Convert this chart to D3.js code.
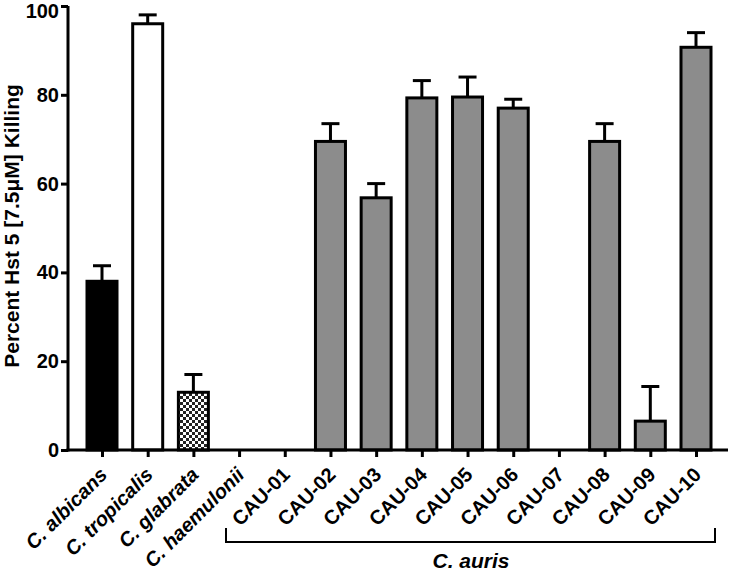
<!DOCTYPE html>
<html><head><meta charset="utf-8">
<script src="https://cdn.jsdelivr.net/npm/d3@7"></script>
<style>body{margin:0;background:#fff}svg{display:block}</style>
</head><body><svg id="c" width="733" height="573"></svg>
<script>
const categories = ["C. albicans","C. tropicalis","C. glabrata","C. haemulonii","CAU-01","CAU-02","CAU-03","CAU-04","CAU-05","CAU-06","CAU-07","CAU-08","CAU-09","CAU-10"];
const italicCats = ["C. albicans","C. tropicalis","C. glabrata","C. haemulonii"];
const values = [38, 96, 13, 0, 0, 69.5, 56.8, 79.3, 79.5, 77, 0, 69.5, 6.5, 90.7];
const errors = [3.5, 2, 4, 0, 0, 4, 3.2, 3.9, 4.5, 2, 0, 4, 7.8, 3.3];
const fills = ["black","white","check","none","none","gray","gray","gray","gray","gray","none","gray","gray","gray"];
const yTicks = [0,20,40,60,80,100];

const FONT = "Liberation Sans, Arial, sans-serif";
const svg = d3.select("#c");
const defs = svg.append("defs");
const pat = defs.append("pattern").attr("id","chk").attr("width",6).attr("height",6).attr("patternUnits","userSpaceOnUse");
pat.append("rect").attr("width",6).attr("height",6).attr("fill","#fff");
pat.append("rect").attr("width",3).attr("height",3).attr("fill","#222");
pat.append("rect").attr("x",3).attr("y",3).attr("width",3).attr("height",3).attr("fill","#222");

const y = d3.scaleLinear().domain([0,100]).range([450,6]);
const x = d3.scalePoint().domain(categories).range([102,696]);
const bw = 30;
const colorOf = f => f==="black"?"#000":f==="white"?"#fff":f==="gray"?"#8c8c8c":f==="check"?"url(#chk)":"none";

const g = svg.append("g");
categories.forEach((c,i)=>{
  if(values[i]<=0) return;
  const cx = x(c);
  g.append("line").attr("x1",cx).attr("x2",cx).attr("y1",y(values[i])).attr("y2",y(values[i]+errors[i])).attr("stroke","#000").attr("stroke-width",3);
  g.append("line").attr("x1",cx-9).attr("x2",cx+9).attr("y1",y(values[i]+errors[i])).attr("y2",y(values[i]+errors[i])).attr("stroke","#000").attr("stroke-width",3);
});
g.selectAll("rect.bar").data(categories.map((c,i)=>({c,v:values[i],f:fills[i]})).filter(d=>d.v>0))
 .enter().append("rect").attr("class","bar")
 .attr("x",d=>x(d.c)-bw/2).attr("width",bw)
 .attr("y",d=>y(d.v)).attr("height",d=>y(0)-y(d.v))
 .attr("fill",d=>colorOf(d.f)).attr("stroke","#000").attr("stroke-width",3);

// y axis
const ya = svg.append("g").attr("transform","translate(68,0)")
 .call(d3.axisLeft(y).tickValues(yTicks).tickSize(7).tickPadding(2));
ya.select(".domain").attr("stroke-width",3).attr("d","M0,"+y(100)+"V"+(y(0)+1.5));
ya.selectAll(".tick line").attr("stroke-width",3);
ya.selectAll("text").attr("font-family",FONT).attr("font-weight","bold").attr("font-size",20).attr("fill","#000")
 .attr("dy",d=>d===100?"0.55em":"0.32em");

// x axis
const xa = svg.append("g").attr("transform","translate(0,450)")
 .call(d3.axisBottom(x).tickSize(7).tickSizeOuter(0));
xa.select(".domain").attr("stroke-width",3).attr("d","M66.5,0H728");
xa.selectAll(".tick line").attr("stroke-width",3);
xa.selectAll("text")
 .attr("font-family",FONT).attr("font-weight","bold").attr("font-size",20).attr("fill","#000")
 .attr("font-style",d=>italicCats.includes(d)?"italic":"normal")
 .attr("text-anchor","end").attr("dy","0.35em").attr("x",0).attr("y",0)
 .attr("transform","translate(1,21) rotate(-45)");

// y label
svg.append("text").attr("transform","translate(19,226) rotate(-90)")
 .attr("text-anchor","middle").attr("font-family",FONT)
 .attr("font-weight","bold").attr("font-size",21).text("Percent Hst 5 [7.5\u03bcM] Killing");

// bracket
const bx1 = 226, bx2 = 715, by = 542, bt = 528;
svg.append("path").attr("d",`M${bx1},${bt}V${by}H${bx2}V${bt}`).attr("fill","none").attr("stroke","#000").attr("stroke-width",2);
svg.append("text").attr("x",471).attr("y",568).attr("text-anchor","middle")
 .attr("font-family",FONT).attr("font-weight","bold").attr("font-style","italic").attr("font-size",21).text("C. auris");
</script></body></html>
